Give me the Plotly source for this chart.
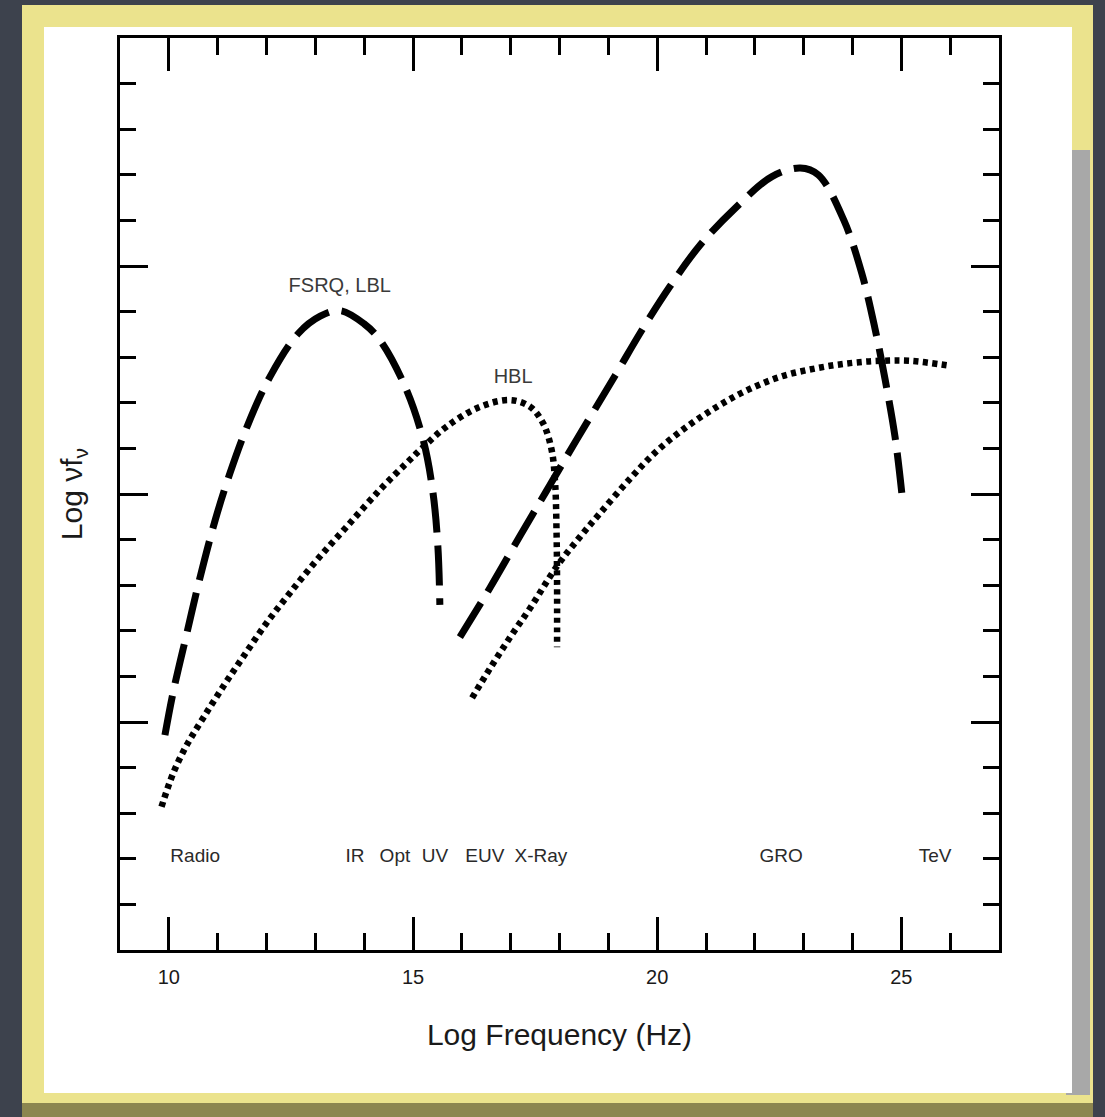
import plotly.graph_objects as go

# ---------------- data ----------------
# FSRQ / LBL : synchrotron hump (dashed)
fsrq_sync_x = [9.92, 10.09, 10.37, 10.60, 10.95, 11.25, 11.63, 12.07, 12.65, 13.10,
               13.51, 14.00, 14.32, 14.84, 15.21, 15.41, 15.51, 15.55]
fsrq_sync_y = [4.71, 5.66, 6.95, 8.00, 9.43, 10.45, 11.55, 12.57, 13.52, 13.90,
               14.02, 13.73, 13.38, 12.35, 11.18, 10.02, 8.84, 7.57]

# FSRQ / LBL : inverse-Compton hump (dashed)
fsrq_ic_x = [15.96, 16.58, 17.19, 17.74, 18.35, 19.14, 19.68, 20.26, 20.88,
             21.60, 22.35, 22.93, 23.30, 23.82, 24.19, 24.46, 24.67, 24.87, 25.01]
fsrq_ic_y = [6.86, 7.95, 9.08, 10.08, 11.19, 12.60, 13.58, 14.55, 15.46,
             16.27, 16.96, 17.15, 17.00, 16.01, 14.84, 13.63, 12.50, 11.26, 10.02]

# HBL : synchrotron hump (dotted)
hbl_sync_x = [9.85, 10.09, 10.37, 10.71, 11.12, 11.53, 12.00, 12.48, 13.03, 13.64,
              14.32, 14.87, 15.21, 15.69, 16.37, 16.99, 17.40, 17.66, 17.84, 17.91,
              17.94, 17.95, 17.95]
hbl_sync_y = [3.14, 3.88, 4.50, 5.10, 5.79, 6.44, 7.17, 7.83, 8.55, 9.28,
              10.09, 10.68, 11.03, 11.48, 11.91, 12.06, 11.91, 11.56, 10.96, 10.24,
              9.14, 8.05, 6.64]

# HBL : inverse-Compton hump (dotted)
hbl_ic_x = [16.21, 16.58, 16.99, 17.40, 17.95, 18.42, 18.83, 19.44, 19.99, 20.60,
            21.22, 21.83, 22.52, 23.27, 23.95, 24.56, 25.18, 26.00]
hbl_ic_y = [5.53, 6.18, 6.86, 7.50, 8.42, 9.06, 9.58, 10.33, 10.94, 11.47,
            11.91, 12.27, 12.57, 12.76, 12.87, 12.92, 12.92, 12.81]

# band labels along the bottom
band_labels = ["Radio", "IR", "Opt", "UV", "EUV", "X-Ray", "GRO", "TeV"]
band_x = [10.54, 13.81, 14.63, 15.45, 16.47, 17.62, 22.54, 25.69]
band_y = [2.04] * len(band_labels)

# curve labels
curve_labels = ["FSRQ, LBL", "HBL"]
curve_label_x = [13.5, 17.05]
curve_label_y = [14.54, 12.54]

x_tick_vals = [10, 15, 20, 25]
x_tick_text = ["10", "15", "20", "25"]

# ---------------- figure ----------------
W, H = 1105, 1117
ML, MR, MT, MB = 120, 106, 38, 167
PW, PH = W - ML - MR, H - MT - MB


def pxx(v):
    return (v - ML) / PW


def pxy(v):
    return (H - MB - v) / PH


FONT = "Liberation Sans, Arial, Helvetica, sans-serif"

fig = go.Figure()

dash_style = dict(color="black", width=7, dash="40px,13px")
dot_style = dict(color="black", width=6.5, dash="5px,4.5px")

fig.add_trace(go.Scatter(x=fsrq_sync_x, y=fsrq_sync_y, mode="lines",
                         line=dict(shape="spline", smoothing=1, **dash_style),
                         name="FSRQ, LBL synchrotron"))
fig.add_trace(go.Scatter(x=fsrq_ic_x, y=fsrq_ic_y, mode="lines",
                         line=dict(shape="spline", smoothing=1, **dash_style),
                         name="FSRQ, LBL inverse Compton"))
fig.add_trace(go.Scatter(x=hbl_sync_x, y=hbl_sync_y, mode="lines",
                         line=dict(shape="spline", smoothing=1, **dot_style),
                         name="HBL synchrotron"))
fig.add_trace(go.Scatter(x=hbl_ic_x, y=hbl_ic_y, mode="lines",
                         line=dict(shape="spline", smoothing=1, **dot_style),
                         name="HBL inverse Compton"))

fig.add_trace(go.Scatter(x=band_x, y=band_y, mode="text", text=band_labels,
                         textposition="middle center",
                         textfont=dict(family=FONT, size=19, color="#2a2a2a"),
                         hoverinfo="skip", name="bands"))
fig.add_trace(go.Scatter(x=curve_label_x, y=curve_label_y, mode="text", text=curve_labels,
                         textposition="middle center",
                         textfont=dict(family=FONT, size=20, color="#3a3a3a"),
                         hoverinfo="skip", name="labels"))

shapes = [
    # yellow paper
    dict(type="rect", xref="paper", yref="paper", layer="below",
         x0=pxx(22), x1=pxx(1093), y0=pxy(H), y1=pxy(5),
         fillcolor="#ebe38d", line=dict(width=0)),
    # olive shading along bottom edge
    dict(type="rect", xref="paper", yref="paper", layer="below",
         x0=pxx(22), x1=pxx(1093), y0=pxy(H), y1=pxy(1103),
         fillcolor="#8c8650", line=dict(width=0)),
    # grey shadow on the right
    dict(type="rect", xref="paper", yref="paper", layer="below",
         x0=pxx(1066), x1=pxx(1090), y0=pxy(1095), y1=pxy(150),
         fillcolor="#a8a8a8", line=dict(width=0)),
    # white sheet
    dict(type="rect", xref="paper", yref="paper", layer="below",
         x0=pxx(44), x1=pxx(1072), y0=pxy(1093), y1=pxy(27),
         fillcolor="white", line=dict(width=0)),
]

fig.update_layout(
    width=W, height=H,
    margin=dict(l=ML, r=MR, t=MT, b=MB, pad=0),
    paper_bgcolor="#3d424d",
    plot_bgcolor="rgba(0,0,0,0)",
    showlegend=False,
    shapes=shapes,
    font=dict(family=FONT, color="#1a1a1a"),
    xaxis=dict(
        range=[9, 27], showgrid=False, zeroline=False,
        showline=True, linecolor="black", linewidth=3, mirror="allticks",
        ticks="inside", ticklen=33, tickwidth=3, tickcolor="black",
        tickmode="array", tickvals=x_tick_vals, ticktext=x_tick_text,
        tickfont=dict(family=FONT, size=20, color="#1a1a1a"),
        ticklabelstandoff=7,
        minor=dict(ticks="inside", dtick=1, tick0=9, ticklen=17, tickwidth=3,
                   tickcolor="black", showgrid=False),
        title=dict(text="Log Frequency (Hz)", standoff=37,
                   font=dict(family=FONT, size=30, color="#1a1a1a")),
    ),
    yaxis=dict(
        range=[0, 20], showgrid=False, zeroline=False,
        showline=True, linecolor="black", linewidth=3, mirror="allticks",
        ticks="inside", ticklen=28, tickwidth=3, tickcolor="black",
        tickmode="linear", tick0=0, dtick=5, showticklabels=False,
        minor=dict(ticks="inside", dtick=1, tick0=0, ticklen=16, tickwidth=3,
                   tickcolor="black", showgrid=False),
        title=dict(text="Log νf<sub>ν</sub>", standoff=26,
                   font=dict(family=FONT, size=30, color="#1a1a1a")),
    ),
)

fig.write_html(
    "out.html",
    config={"displayModeBar": False},
    post_script="document.body.style.margin='0';document.body.style.background='#3d424d';",
)
